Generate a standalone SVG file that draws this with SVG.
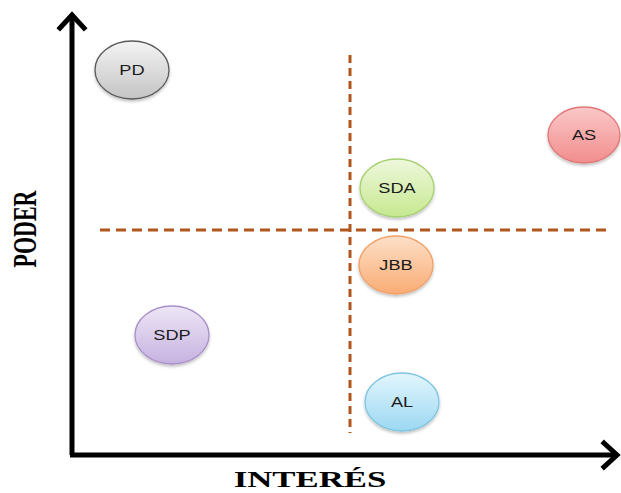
<svg xmlns="http://www.w3.org/2000/svg" width="621" height="493" viewBox="0 0 621 493">
  <defs>
    <linearGradient id="gGray" x1="0" y1="0" x2="0" y2="1">
      <stop offset="0" stop-color="#f4f4f4"/>
      <stop offset="1" stop-color="#c4c4c4"/>
    </linearGradient>
    <linearGradient id="gRed" x1="0" y1="0" x2="0" y2="1">
      <stop offset="0" stop-color="#fbc8c8"/>
      <stop offset="1" stop-color="#f28d8d"/>
    </linearGradient>
    <linearGradient id="gGreen" x1="0" y1="0" x2="0" y2="1">
      <stop offset="0" stop-color="#eef8dc"/>
      <stop offset="1" stop-color="#c6e890"/>
    </linearGradient>
    <linearGradient id="gOrange" x1="0" y1="0" x2="0" y2="1">
      <stop offset="0" stop-color="#fde0c8"/>
      <stop offset="1" stop-color="#f9ac74"/>
    </linearGradient>
    <linearGradient id="gPurple" x1="0" y1="0" x2="0" y2="1">
      <stop offset="0" stop-color="#eee6f6"/>
      <stop offset="1" stop-color="#c6b2e0"/>
    </linearGradient>
    <linearGradient id="gBlue" x1="0" y1="0" x2="0" y2="1">
      <stop offset="0" stop-color="#e2f6fd"/>
      <stop offset="1" stop-color="#9cd8f2"/>
    </linearGradient>
    <filter id="shadow" x="-20%" y="-20%" width="140%" height="150%">
      <feDropShadow dx="0" dy="2" stdDeviation="1.5" flood-color="#000" flood-opacity="0.25"/>
    </filter>
  </defs>
  <style>
    .axis { fill: none; stroke: #000; stroke-width: 5; }
    .head { fill: none; stroke: #000; stroke-width: 5; stroke-linecap: square; stroke-linejoin: miter; }
    .dash { fill: none; stroke: #b0561c; stroke-width: 3; }
    .node { stroke-width: 1.3; filter: url(#shadow); }
    .lbl { font-family: "Liberation Sans", Arial, sans-serif; font-size: 14px; fill: #1c1c1c; text-anchor: middle; }
    .title { font-family: "Liberation Serif", "Times New Roman", serif; font-weight: bold; fill: #000; text-anchor: middle; }
  </style>

  <rect width="621" height="493" fill="#fff"/>

  <!-- quadrant dividers and axes -->
  <g id="connectors">
    <line class="dash" x1="350" y1="55" x2="350" y2="433" stroke-dasharray="8 5"/>
    <line class="dash" x1="100" y1="230" x2="612" y2="230" stroke-dasharray="10 6"/>
    <line class="axis" x1="72" y1="16" x2="72" y2="455"/>
    <line class="axis" x1="70" y1="455" x2="614" y2="455"/>
    <polyline class="head" points="60,28 72,15 84,28"/>
    <polyline class="head" points="604,443 617,455 604,467"/>
  </g>

  <!-- axis titles -->
  <text class="title" font-size="24" transform="translate(310,487) scale(1.45,1)">INTERÉS</text>
  <text class="title" font-size="22" transform="translate(36,229) scale(1.55,1) rotate(-90)">PODER</text>

  <!-- stakeholders -->
  <g id="PD">
    <ellipse class="node" cx="132" cy="70" rx="37" ry="29" fill="url(#gGray)" stroke="#5a5a5a"/>
    <text class="lbl" transform="translate(132,75) scale(1.3,1)">PD</text>
  </g>
  <g id="AS">
    <ellipse class="node" cx="584" cy="135" rx="36" ry="28" fill="url(#gRed)" stroke="#e07878"/>
    <text class="lbl" transform="translate(584,140) scale(1.3,1)">AS</text>
  </g>
  <g id="SDA">
    <ellipse class="node" cx="397" cy="188" rx="37" ry="29" fill="url(#gGreen)" stroke="#a6d070"/>
    <text class="lbl" transform="translate(397,193) scale(1.3,1)">SDA</text>
  </g>
  <g id="JBB">
    <ellipse class="node" cx="396" cy="265" rx="37" ry="29" fill="url(#gOrange)" stroke="#f0a068"/>
    <text class="lbl" transform="translate(396,270) scale(1.3,1)">JBB</text>
  </g>
  <g id="SDP">
    <ellipse class="node" cx="172" cy="335" rx="37" ry="29" fill="url(#gPurple)" stroke="#a890c8"/>
    <text class="lbl" transform="translate(172,340) scale(1.3,1)">SDP</text>
  </g>
  <g id="AL">
    <ellipse class="node" cx="402" cy="402" rx="37" ry="29" fill="url(#gBlue)" stroke="#7cc4e2"/>
    <text class="lbl" transform="translate(402,407) scale(1.3,1)">AL</text>
  </g>
</svg>
